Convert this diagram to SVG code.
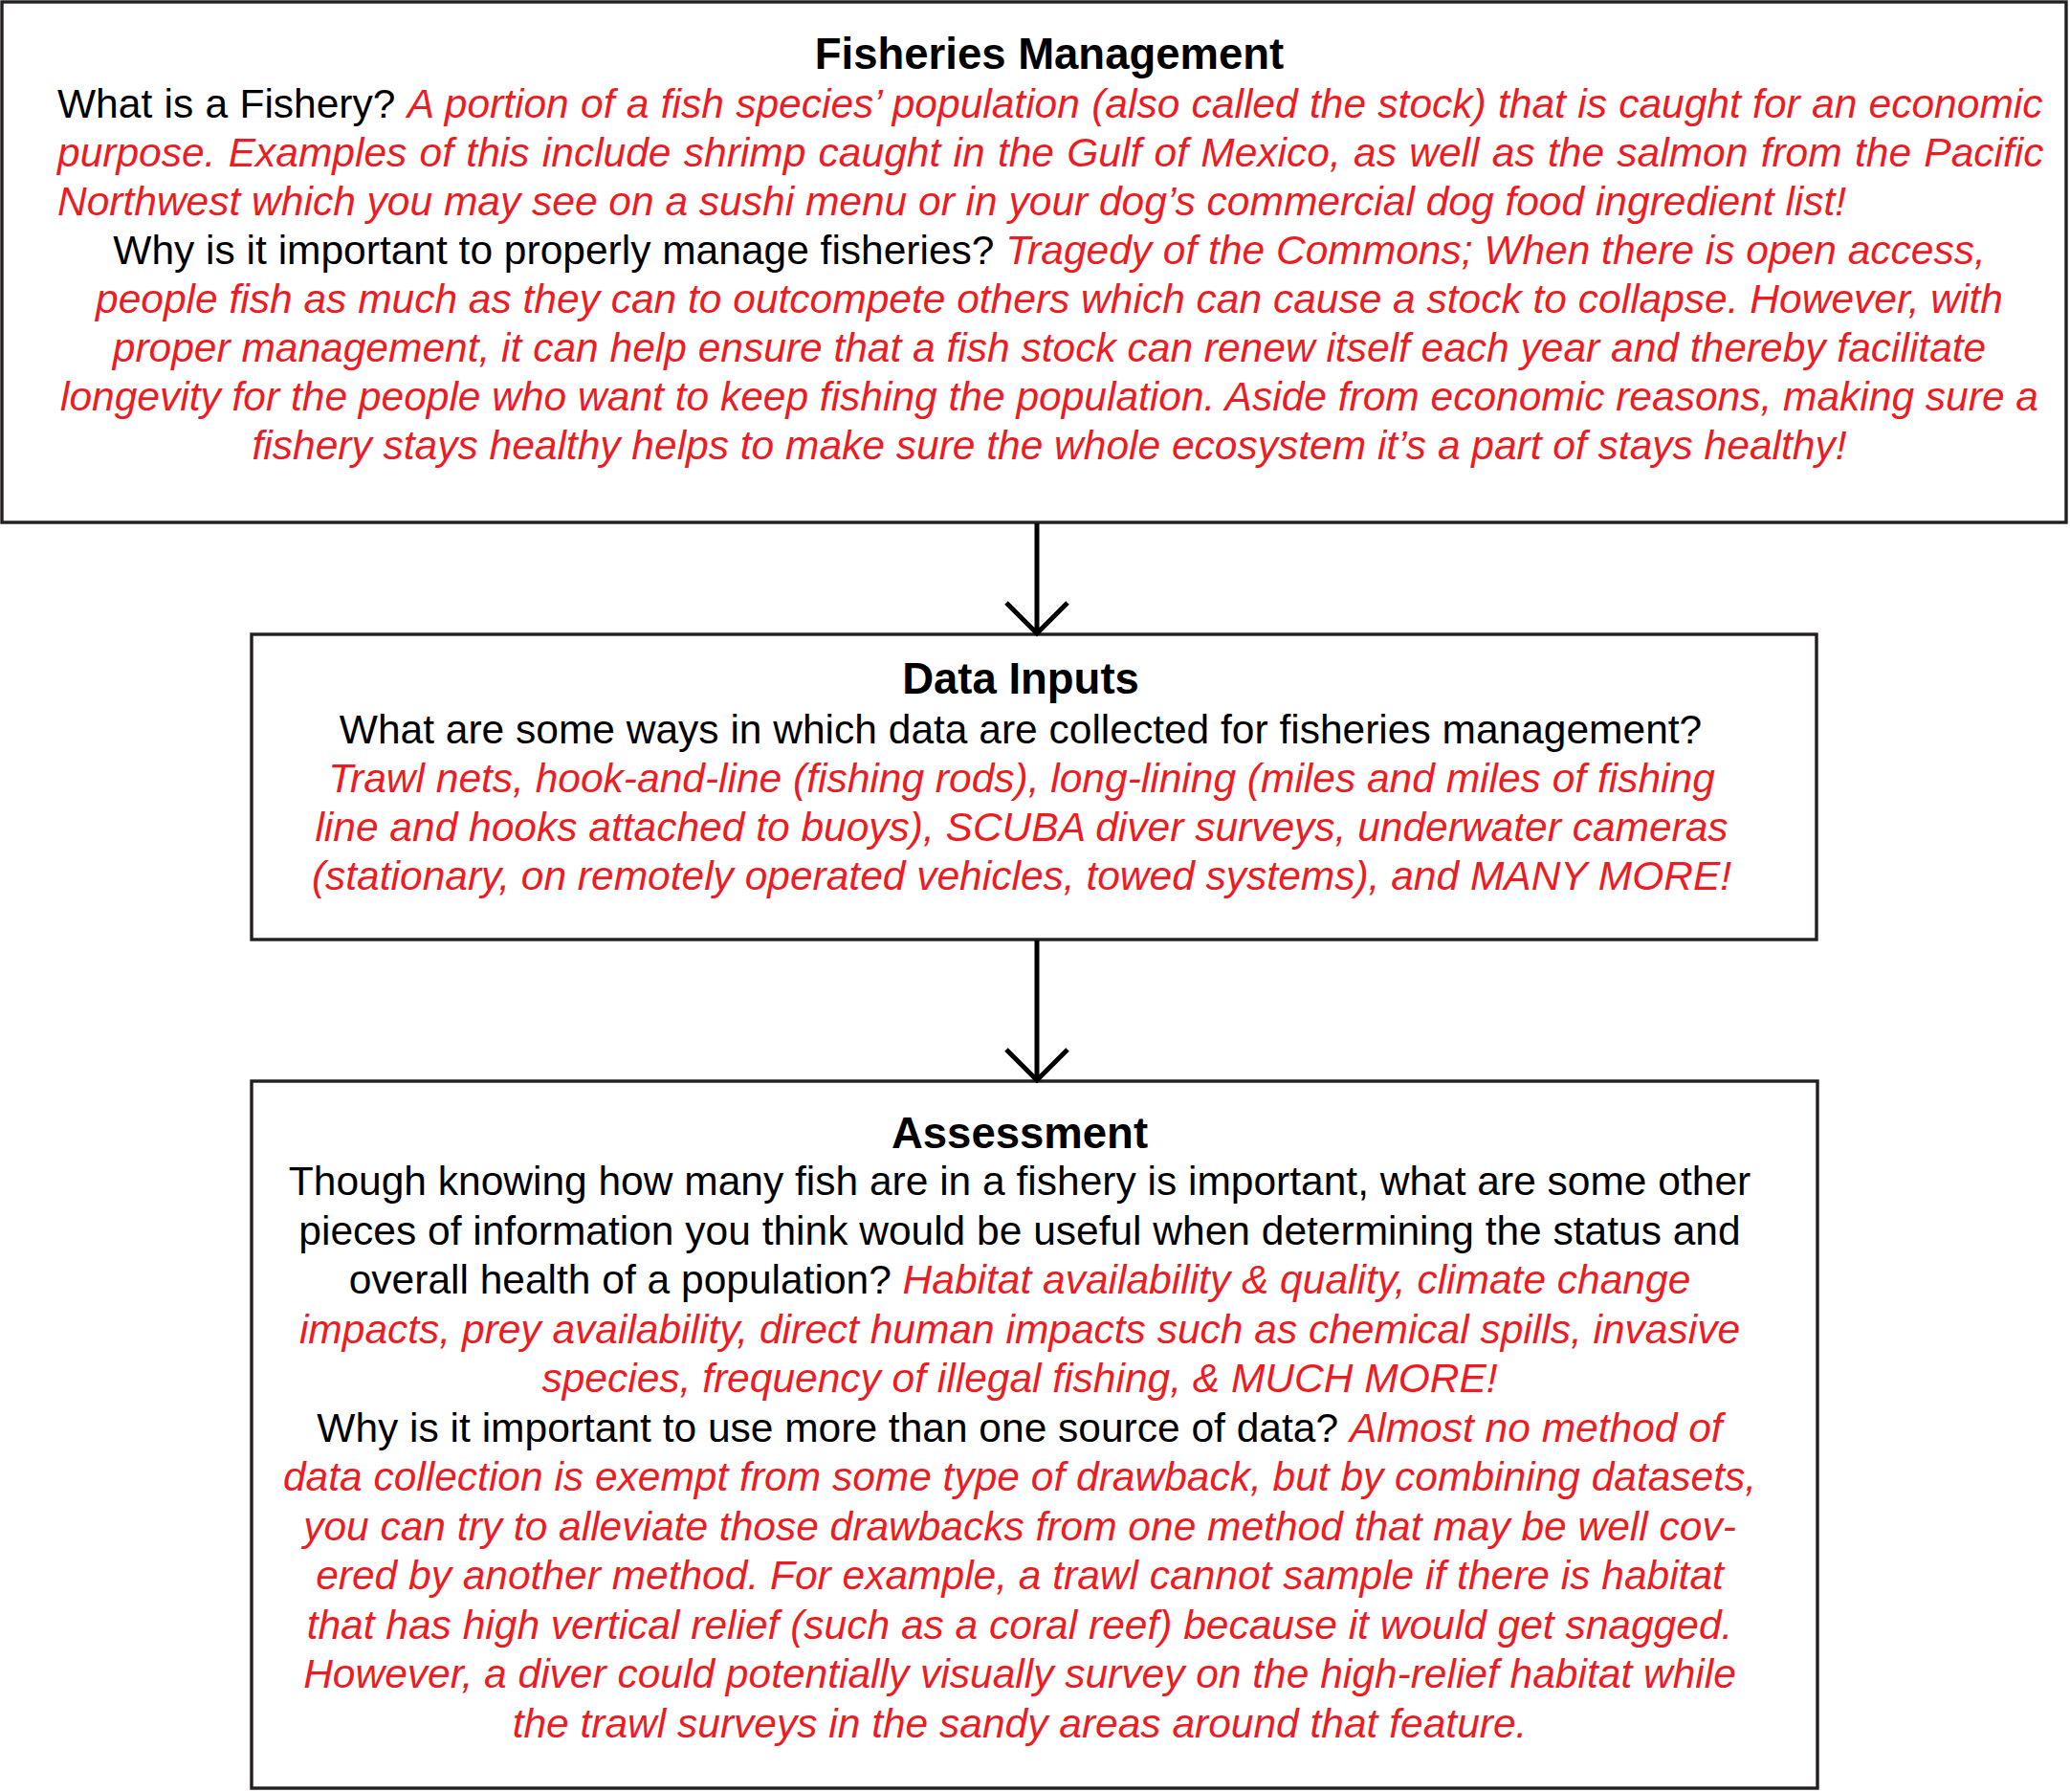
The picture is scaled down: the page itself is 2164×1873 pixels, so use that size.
<svg xmlns="http://www.w3.org/2000/svg" width="2164" height="1873" viewBox="0 0 2164 1873">
<style>
.box{fill:#fff;stroke:#231f20;stroke-width:3.4}
.t{font-family:"Liberation Sans",Arial,sans-serif;font-size:42.5px;fill:#000}
.h{font-family:"Liberation Sans",Arial,sans-serif;font-size:45.5px;font-weight:bold;fill:#000}
.r{fill:#ed1c24;font-style:italic}
.c{text-anchor:middle}
.conn{stroke:#000;stroke-width:5;fill:none}
</style>
<rect width="2164" height="1873" fill="#fff"/>
<g id="node-fisheries-management">
<rect class="box" x="2" y="2" width="2158" height="544"/>
<text class="h c" x="1097" y="72">Fisheries Management</text>
<text class="t" x="60" y="123" word-spacing="0.5">What is a Fishery? <tspan class="r">A portion of a fish species’ population (also called the stock) that is caught for an economic</tspan></text>
<text class="t r" x="60" y="174" word-spacing="1.5">purpose. Examples of this include shrimp caught in the Gulf of Mexico, as well as the salmon from the Pacific</text>
<text class="t r" x="60" y="225">Northwest which you may see on a sushi menu or in your dog’s commercial dog food ingredient list!</text>
<text class="t c" x="1097" y="276">Why is it important to properly manage fisheries? <tspan class="r">Tragedy of the Commons; When there is open access,</tspan></text>
<text class="t r c" x="1097" y="327">people fish as much as they can to outcompete others which can cause a stock to collapse. However, with</text>
<text class="t r c" x="1097" y="378">proper management, it can help ensure that a fish stock can renew itself each year and thereby facilitate</text>
<text class="t r c" x="1097" y="429">longevity for the people who want to keep fishing the population. Aside from economic reasons, making sure a</text>
<text class="t r c" x="1097" y="480">fishery stays healthy helps to make sure the whole ecosystem it’s a part of stays healthy!</text>
</g>
<g id="node-data-inputs">
<rect class="box" x="263" y="663" width="1636" height="319"/>
<text class="h c" x="1067" y="725">Data Inputs</text>
<text class="t c" x="1067" y="777">What are some ways in which data are collected for fisheries management?</text>
<text class="t r c" x="1068" y="828">Trawl nets, hook-and-line (fishing rods), long-lining (miles and miles of fishing</text>
<text class="t r c" x="1068" y="879">line and hooks attached to buoys), SCUBA diver surveys, underwater cameras</text>
<text class="t r c" x="1068" y="930">(stationary, on remotely operated vehicles, towed systems), and MANY MORE!</text>
</g>
<g id="node-assessment">
<rect class="box" x="263" y="1130" width="1637" height="739"/>
<text class="h c" x="1066" y="1200">Assessment</text>
<text class="t c" x="1066" y="1249">Though knowing how many fish are in a fishery is important, what are some other</text>
<text class="t c" x="1066" y="1300.5">pieces of information you think would be useful when determining the status and</text>
<text class="t c" x="1066" y="1352">overall health of a population? <tspan class="r">Habitat availability &amp; quality, climate change</tspan></text>
<text class="t r c" x="1066" y="1403.5">impacts, prey availability, direct human impacts such as chemical spills, invasive</text>
<text class="t r c" x="1066" y="1455">species, frequency of illegal fishing, &amp; MUCH MORE!</text>
<text class="t c" x="1066" y="1506.5">Why is it important to use more than one source of data? <tspan class="r">Almost no method of</tspan></text>
<text class="t r c" x="1066" y="1558">data collection is exempt from some type of drawback, but by combining datasets,</text>
<text class="t r c" x="1066" y="1609.5">you can try to alleviate those drawbacks from one method that may be well cov-</text>
<text class="t r c" x="1066" y="1661">ered by another method. For example, a trawl cannot sample if there is habitat</text>
<text class="t r c" x="1066" y="1712.5">that has high vertical relief (such as a coral reef) because it would get snagged.</text>
<text class="t r c" x="1066" y="1764">However, a diver could potentially visually survey on the high-relief habitat while</text>
<text class="t r c" x="1066" y="1815.5">the trawl surveys in the sandy areas around that feature.</text>
</g>
<g id="connectors">
<path class="conn" d="M1084 547V661M1052 630L1084 662L1116 630"/>
<path class="conn" d="M1084 983V1128M1052 1097L1084 1129L1116 1097"/>
</g>
</svg>
